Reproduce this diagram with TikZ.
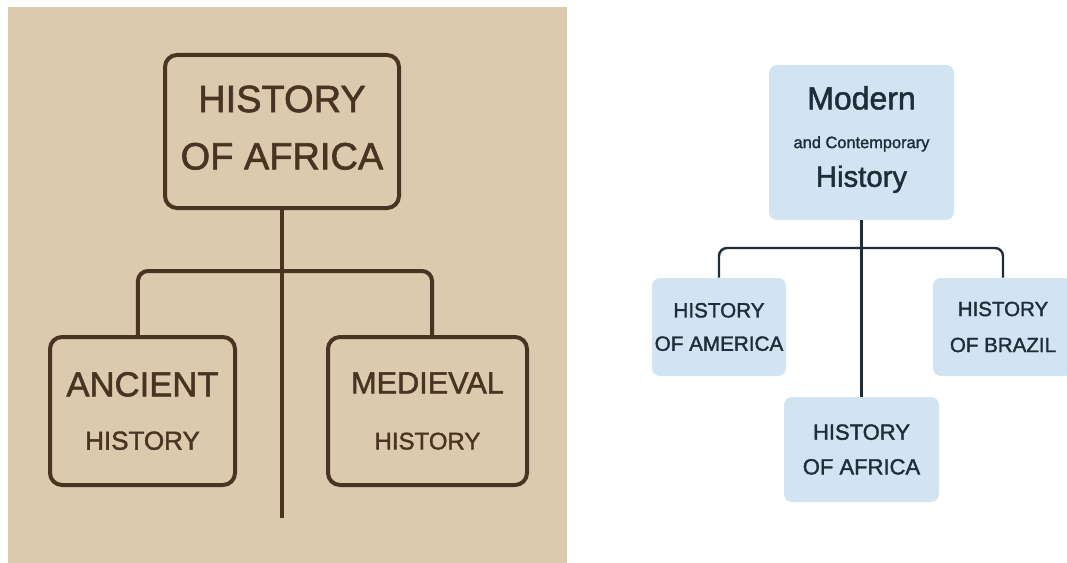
\documentclass[tikz,border=0pt]{standalone}
\usepackage{fontspec}
\setmainfont{Liberation Sans}[FakeBold=1.6]
\usepackage{xcolor}
\usepackage{tikz}
\definecolor{parch}{HTML}{DCCAAE}
\definecolor{umber}{HTML}{4A3322}
\definecolor{sky}{HTML}{D2E4F1}
\definecolor{ink}{HTML}{1F2C3A}
\newcommand{\fs}[2]{\fontsize{#1}{#2}\selectfont}

\begin{document}
\begin{tikzpicture}[
      x=0.75pt, y=-0.75pt,
      oldbox/.style={draw=umber, line width=3pt, rounded corners=9pt,
                     text=umber, align=center, inner sep=0pt},
      newbox/.style={fill=sky, rounded corners=6pt, text=ink,
                     align=center, inner sep=0pt},
      oldlink/.style={draw=umber, line width=3pt, rounded corners=7.5pt},
      newlink/.style={draw=ink, line width=1.8pt, rounded corners=6pt},
    ]
    \useasboundingbox (0,0) rectangle (1067,563);
    \fill[white] (0,0) rectangle (1067,563);
    \fill[parch] (8,7) rectangle (567,563);

    % left panel
    \node[oldbox, minimum width=175.5pt, minimum height=114.75pt,
          font=\fs{28.5}{43}, text depth=6pt] (africa) at (282,131.5)
          {HISTORY\\OF AFRICA};
    \node[oldbox, minimum width=138.75pt, minimum height=111pt,
          font=\fs{19.5}{40}] (anc) at (142.5,411)
          {{\fs{26}{40}ANCIENT}\\HISTORY};
    \node[oldbox, minimum width=149.25pt, minimum height=111pt,
          font=\fs{18}{42}] (med) at (427.5,411)
          {{\fs{23}{42}MEDIEVAL}\\HISTORY};
    \coordinate (fork) at (282,271);
    \coordinate (tail) at (282,518);

    \draw[oldlink] (africa.south) -- (tail);
    \draw[oldlink] ([xshift=-3.4pt]anc.north) |- (fork) -| ([xshift=3.4pt]med.north);

    % right panel
    \node[newbox, minimum width=138.75pt, minimum height=116.25pt,
          font=\fs{12.3}{29}, text depth=9pt] (modern) at (861.5,142.5)
          {{\fs{24}{29}Modern}\\and Contemporary\\{\fs{22}{29}History}};
    \node[newbox, minimum width=100.5pt, minimum height=73.5pt,
          font=\fs{15.5}{25}] (amer) at (719,327) {HISTORY\\OF AMERICA};
    \node[newbox, minimum width=105pt, minimum height=73.5pt,
          font=\fs{15.4}{27}] (braz) at (1003,327) {HISTORY\\OF BRAZIL};
    \node[newbox, minimum width=116.25pt, minimum height=78.75pt,
          font=\fs{16.5}{26}] (afr) at (861.5,449.5) {HISTORY\\OF AFRICA};
    \coordinate (rfork) at (862,248);

    \draw[newlink] (modern.south) -- (afr.north);
    \draw[newlink] (amer.north) |- (rfork) -| (braz.north);
  \end{tikzpicture}
\end{document}
